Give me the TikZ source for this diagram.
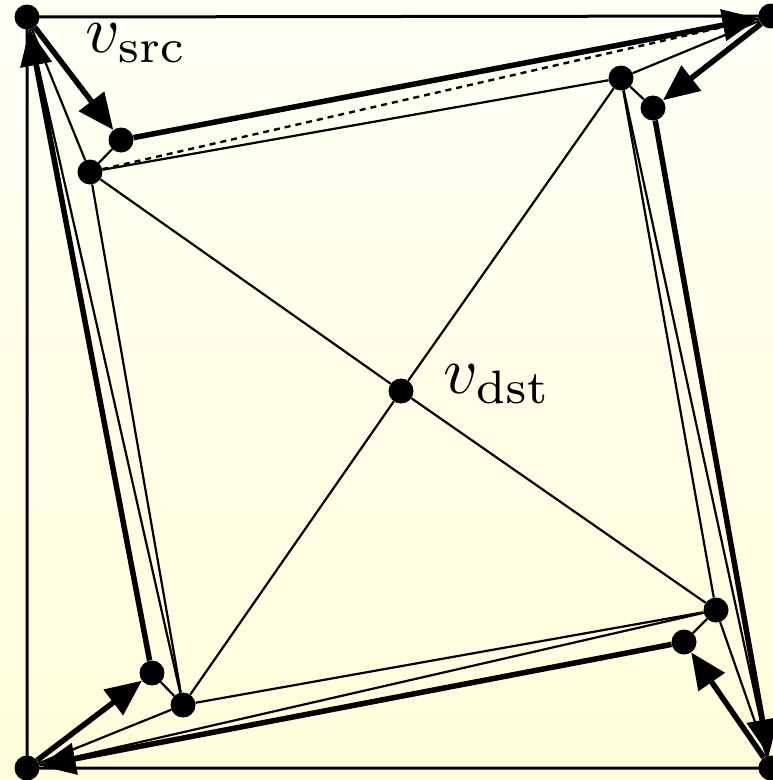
\documentclass[tikz,border=0pt]{standalone}
\usetikzlibrary{arrows.meta}
\definecolor{bgtop}{RGB}{255,255,245}
\definecolor{bgbot}{RGB}{255,254,218}
\tikzset{
  dot/.style={circle,fill=black,inner sep=0pt,minimum size=25pt},
  frameline/.style={line width=3pt,black},
  thinline/.style={line width=2.2pt,black},
  dashline/.style={line width=2.4pt,black,dash pattern=on 6pt off 5pt},
  thickarrow/.style={line width=5.5pt,black,-{Triangle[length=36pt,width=31pt]}},
  lbl/.style={anchor=base west,inner sep=0pt,scale=6.7}
}
\begin{document}
\begin{tikzpicture}[x=1pt,y=-1pt]
\useasboundingbox (0,0) rectangle (773,780);
\fill[top color=bgtop,bottom color=bgbot] (0,0) rectangle (773,780);
% corner nodes
\node[dot] (K0) at (27,17) {};
\node[dot] (K1) at (771,16) {};
\node[dot] (K2) at (771,768) {};
\node[dot] (K3) at (27,768) {};
% inner nodes
\node[dot] (P0) at (121,140) {};
\node[dot] (Q0) at (90,172) {};
\node[dot] (P1) at (653,108) {};
\node[dot] (Q1) at (621,78) {};
\node[dot] (P2) at (684,642) {};
\node[dot] (Q2) at (716,610) {};
\node[dot] (P3) at (152,673) {};
\node[dot] (Q3) at (183,705) {};
\node[dot] (C) at (401,391) {};
% labels
\node[lbl] (Ls) at (84,52) {$v_{\mathrm{src}}$};
\node[lbl] (Ld) at (442,393) {$v_{\mathrm{dst}}$};
% frame
\draw[frameline] (K1.center) -- (K0.center) -- (K3.center) -- (K2.center);
% inner square and diagonals
\draw[thinline] (Q0) -- (Q1) -- (Q2) -- (Q3) -- (Q0);
\foreach \q in {Q0,Q1,Q2,Q3} \draw[thinline] (\q) -- (C);
\draw[thinline] (P0) -- (Q0);
\draw[thinline] (P1) -- (Q1);
\draw[thinline] (P2) -- (Q2);
\draw[thinline] (P3) -- (Q3);
% corner to own inner vertex
\draw[thinline] (K0) -- (Q0);
\draw[thinline] (K1) -- (Q1);
\draw[thinline] (K2) -- (Q2);
\draw[thinline] (K3) -- (Q3);
% inner vertex to next corner
\draw[dashline] (Q0) -- (K1);
\draw[thinline] (Q1) -- (K2);
\draw[thinline] (Q2) -- (K3);
\draw[thinline] (Q3) -- (K0);
% thick path with arrows
\draw[thickarrow] (K0) -- (P0);
\draw[thickarrow] (P0) -- (K1);
\draw[thickarrow] (K1) -- (P1);
\draw[thickarrow] (P1) -- (K2);
\draw[thickarrow] (K2) -- (P2);
\draw[thickarrow] (P2) -- (K3);
\draw[thickarrow] (K3) -- (P3);
\draw[thickarrow] (P3) -- (K0);
\end{tikzpicture}
\end{document}
